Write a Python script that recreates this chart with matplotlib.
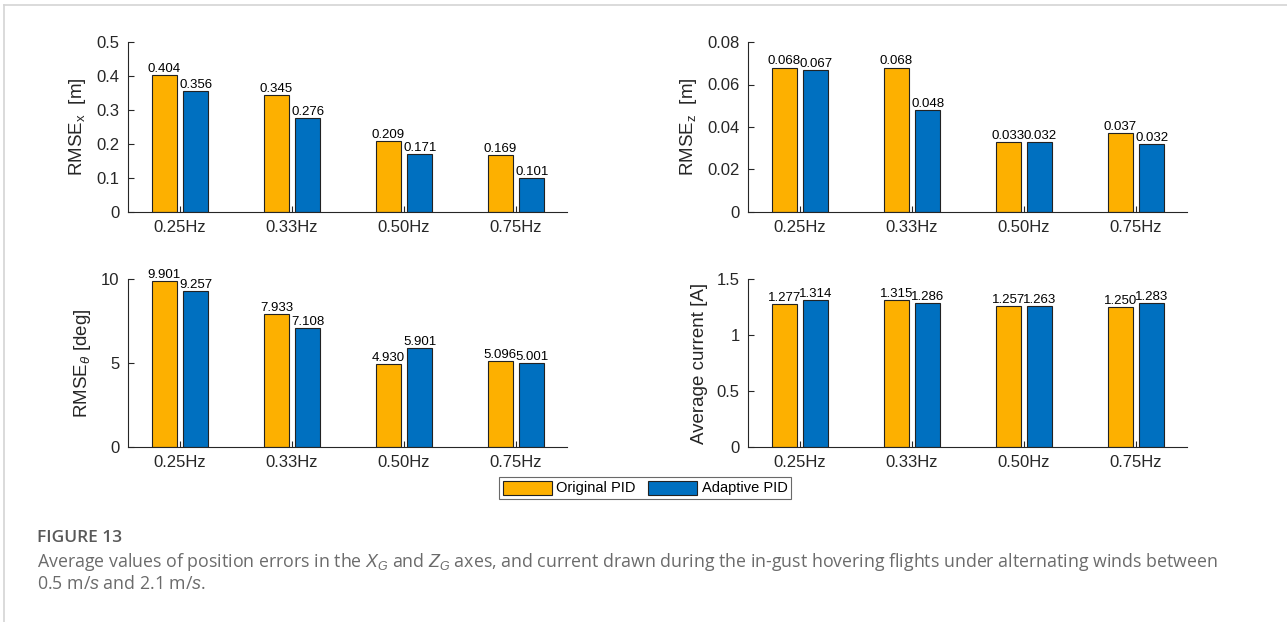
import matplotlib.pyplot as plt
import matplotlib.patches as mpatches
from matplotlib.lines import Line2D
import numpy as np

plt.rcParams['font.family'] = ['Liberation Sans', 'DejaVu Sans']
plt.rcParams['mathtext.fontset'] = 'custom'
plt.rcParams['mathtext.rm'] = 'Liberation Sans'
plt.rcParams['mathtext.it'] = 'Liberation Sans:italic'

freqs = ["0.25Hz", "0.33Hz", "0.50Hz", "0.75Hz"]

rmse_x_orig = [0.404, 0.345, 0.209, 0.169]
rmse_x_adapt = [0.356, 0.276, 0.171, 0.101]
rmse_z_orig = [0.068, 0.068, 0.033, 0.037]
rmse_z_adapt = [0.067, 0.048, 0.033, 0.032]
rmse_th_orig = [9.901, 7.933, 4.930, 5.096]
rmse_th_adapt = [9.257, 7.108, 5.901, 5.001]
current_orig = [1.277, 1.315, 1.257, 1.250]
current_adapt = [1.314, 1.286, 1.263, 1.283]
# labels printed above the bars (as in the figure)
rmse_z_adapt_lbl = [0.067, 0.048, 0.032, 0.032]

orange = "#FDB000"
blue = "#0070C0"
axcol = "#262626"

fig = plt.figure(figsize=(12.87, 6.22), dpi=100)

# frame lines of the page
fig.add_artist(Line2D([4/1287, 1], [1-5/622, 1-5/622], color="#d4d4d4", lw=1.2))
fig.add_artist(Line2D([4/1287, 4/1287], [0, 1-5/622], color="#d4d4d4", lw=1.2))

panels = [
    ([128/1287, 1-212/622, 439/1287, 170/622], rmse_x_orig, rmse_x_adapt, rmse_x_adapt,
     (0, 0.5), np.arange(0, 0.51, 0.1), ["0", "0.1", "0.2", "0.3", "0.4", "0.5"], r"RMSE$_{\mathrm{x}}$  [m]"),
    ([748/1287, 1-212/622, 439/1287, 170/622], rmse_z_orig, rmse_z_adapt, rmse_z_adapt_lbl,
     (0, 0.08), np.arange(0, 0.081, 0.02), ["0", "0.02", "0.04", "0.06", "0.08"], r"RMSE$_{\mathrm{z}}$  [m]"),
    ([128/1287, 1-447/622, 439/1287, 168/622], rmse_th_orig, rmse_th_adapt, rmse_th_adapt,
     (0, 10), [0, 5, 10], ["0", "5", "10"], r"RMSE$_{\theta}$ [deg]"),
    ([748/1287, 1-447/622, 439/1287, 168/622], current_orig, current_adapt, current_adapt,
     (0, 1.5), [0, 0.5, 1, 1.5], ["0", "0.5", "1", "1.5"], "Average current [A]"),
]

x = np.arange(1, 5)
w = 0.225
off = 0.14
for rect, orig, adapt, adapt_lbl, ylim, yt, ytl, ylab in panels:
    ax = fig.add_axes(rect)
    ax.bar(x - off, orig, w, color=orange, edgecolor="#222222", linewidth=0.8)
    ax.bar(x + off, adapt, w, color=blue, edgecolor="#222222", linewidth=0.8)
    for xi, v in zip(x - off, orig):
        ax.text(xi, v, "%.3f" % v, ha="center", va="bottom", fontsize=9.5, color="black")
    for xi, v, lv in zip(x + off, adapt, adapt_lbl):
        ax.text(xi, v, "%.3f" % lv, ha="center", va="bottom", fontsize=9.5, color="black")
    ax.set_xlim(0.535, 4.455)
    ax.set_ylim(*ylim)
    ax.set_xticks(x)
    ax.set_xticklabels(freqs)
    ax.set_yticks(yt)
    ax.set_yticklabels(ytl)
    ax.set_ylabel(ylab, fontsize=13.5, color=axcol, labelpad=6)
    for s in ["top", "right"]:
        ax.spines[s].set_visible(False)
    for s in ["left", "bottom"]:
        ax.spines[s].set_color(axcol)
        ax.spines[s].set_linewidth(0.8)
    ax.tick_params(direction="in", length=4, width=0.8, colors=axcol, labelsize=12, pad=6)

handles = [mpatches.Patch(facecolor=orange, edgecolor="#222222", linewidth=0.8, label="Original PID"),
           mpatches.Patch(facecolor=blue, edgecolor="#222222", linewidth=0.8, label="Adaptive PID")]
leg = fig.legend(handles=handles, loc="center", bbox_to_anchor=(645/1287, 1-488/622), ncol=2,
                 fontsize=10.5, frameon=True, fancybox=False, edgecolor="#444444",
                 handlelength=3.4, handleheight=1.1, handletextpad=0.3, columnspacing=0.8,
                 borderpad=0.25, borderaxespad=0)
leg.get_frame().set_linewidth(0.8)

fig.text(37/1287, 1-538/622, "FIGURE 13", fontsize=12.5, fontweight="semibold", color="#595959",
         family="Open Sans", va="center")
fig.text(37/1287, 1-562/622,
         r"Average values of position errors in the $X_G$ and $Z_G$ axes, and current drawn during the in-gust hovering flights under alternating winds between",
         fontsize=12.8, color="#6b6b6b", family="Open Sans", va="center")
fig.text(37/1287, 1-584/622, r"0.5 m/$s$ and 2.1 m/$s$.", fontsize=12.8, color="#6b6b6b",
         family="Open Sans", va="center")

fig.savefig("out.png", dpi=100)
